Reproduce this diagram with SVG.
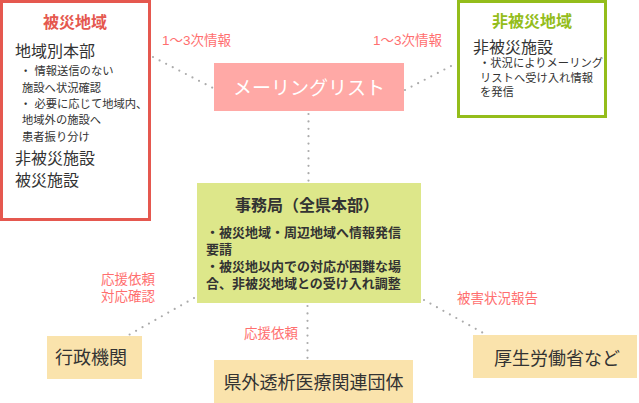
<svg xmlns="http://www.w3.org/2000/svg" width="639" height="403" viewBox="0 0 639 403">
<style>
text{font-family:"Liberation Sans","Noto Sans CJK JP",sans-serif;fill:#333}
.dot{fill:none;stroke:#ABABAB;stroke-width:2.2;stroke-linecap:round;stroke-dasharray:0 7.4}
.lbl{font-size:13.5px;fill:#FF6F6F}
.ttl{font-size:16px;font-weight:bold;text-anchor:middle}
.big{font-size:16px}
.sm{font-size:11.3px}
.cb{font-size:13px;font-weight:bold}
.bt{font-size:18px}
</style>
<rect width="639" height="403" fill="#fff"/>
<g id="connectors">
<line class="dot" x1="153" y1="57" x2="213" y2="88"/>
<line class="dot" x1="405" y1="90" x2="453" y2="65"/>
<line class="dot" x1="308.5" y1="114" x2="308.5" y2="181"/>
<line class="dot" x1="194" y1="298" x2="127" y2="336"/>
<line class="dot" x1="307.5" y1="306" x2="307.5" y2="358"/>
<line class="dot" x1="424" y1="300" x2="485" y2="334"/>
<text class="lbl" x="162" y="45">1〜3次情報</text>
<text class="lbl" x="373" y="45">1〜3次情報</text>
<text class="lbl" x="155" y="284" text-anchor="end">応援依頼</text>
<text class="lbl" x="155" y="301" text-anchor="end">対応確認</text>
<text class="lbl" x="298" y="338" text-anchor="end">応援依頼</text>
<text class="lbl" x="457" y="303">被害状況報告</text>
</g>
<g id="hisai">
<rect x="1.5" y="1.5" width="148" height="218" fill="#fff" stroke="#E5584F" stroke-width="3"/>
<text class="ttl" x="75" y="28" style="fill:#E5584F">被災地域</text>
<text class="big" x="15" y="57">地域別本部</text>
<text class="sm" x="20" y="75">・ 情報送信のない</text>
<text class="sm" x="22" y="91.5">施設へ状況確認</text>
<text class="sm" x="20" y="108">・ 必要に応じて地域内、</text>
<text class="sm" x="22" y="124">地域外の施設へ</text>
<text class="sm" x="22" y="140.5">患者振り分け</text>
<text class="big" x="15" y="164">非被災施設</text>
<text class="big" x="15" y="186">被災施設</text>
</g>
<g id="hihisai">
<rect x="458.5" y="1.5" width="147" height="115" fill="#fff" stroke="#94BD1B" stroke-width="3"/>
<text class="ttl" x="532" y="27" style="fill:#94BD1B">非被災地域</text>
<text class="big" x="473" y="53">非被災施設</text>
<text class="sm" x="479" y="67">・状況によりメーリング</text>
<text class="sm" x="480" y="82">リストへ受け入れ情報</text>
<text class="sm" x="480" y="96">を発信</text>
</g>
<g id="mailinglist">
<rect x="214" y="63" width="190" height="48" fill="#FFA9A6"/>
<text x="309" y="94.5" text-anchor="middle" style="font-size:19px;fill:#fff">メーリングリスト</text>
</g>
<g id="jimukyoku">
<rect x="197" y="183" width="224" height="120" fill="#DDE78A"/>
<text class="ttl" x="307" y="211">事務局（全県本部）</text>
<text class="cb" x="206" y="237">・被災地域・周辺地域へ情報発信</text>
<text class="cb" x="206" y="254">要請</text>
<text class="cb" x="206" y="271">・被災地以内での対応が困難な場</text>
<text class="cb" x="206" y="288">合、非被災地域との受け入れ調整</text>
</g>
<g id="gyosei">
<rect x="47" y="336" width="95" height="43" fill="#FAE3AC"/>
<text class="bt" x="55" y="364">行政機関</text>
</g>
<g id="kengai">
<rect x="214" y="360" width="199" height="43" fill="#FAE3AC"/>
<text class="bt" x="313.5" y="388.5" text-anchor="middle">県外透析医療関連団体</text>
</g>
<g id="kouroushou">
<rect x="473" y="335" width="164" height="43" fill="#FAE3AC"/>
<text class="bt" x="557" y="364.5" text-anchor="middle">厚生労働省など</text>
</g>
</svg>
